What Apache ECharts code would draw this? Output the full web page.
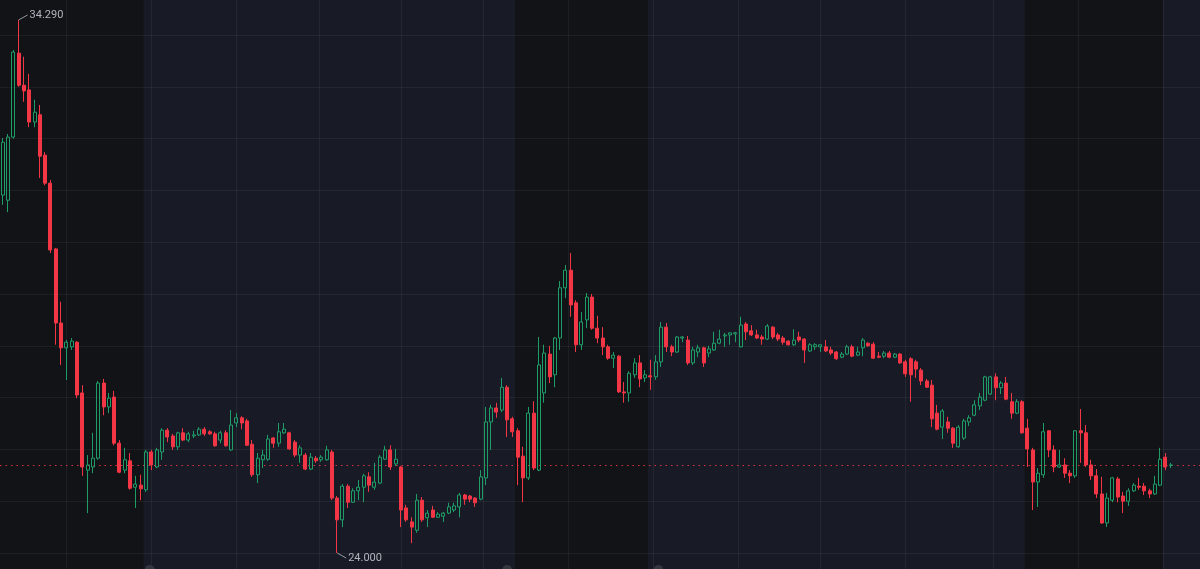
<!DOCTYPE html>
<html><head><meta charset="utf-8">
<script src="https://cdn.jsdelivr.net/npm/echarts@6/dist/echarts.min.js"></script>
<style>html,body{margin:0;padding:0;background:#181b25;overflow:hidden}#c{width:1200px;height:569px;}</style>
</head><body><div id="c"></div>
<script>
// ---- data ----
const totalSlots = 226; // bar slots visible (last few empty)
const categories = Array.from({length: totalSlots}, (_, i) => String(i));
const openP = [30.91,30.81,32.03,33.65,33.03,32.94,32.32,32.46,31.68,31.14,
29.87,28.44,27.96,27.98,28.07,27.09,25.60,25.66,25.83,27.28,
26.82,27.01,26.12,25.60,25.78,25.27,25.31,25.22,25.95,25.66,
25.95,26.37,26.26,26.05,26.32,26.18,26.26,26.28,26.39,26.34,
26.30,26.18,26.32,25.99,26.51,26.61,26.55,26.10,25.51,25.80,
25.81,26.22,26.12,26.32,26.32,26.14,25.89,25.89,25.62,25.83,
25.80,25.80,25.95,25.06,24.64,25.29,24.98,25.20,25.27,25.47,
25.27,25.35,25.81,25.99,25.72,25.66,24.87,24.60,24.44,25.02,
24.68,24.83,24.69,24.71,24.77,24.83,24.89,25.12,25.10,25.06,
25.04,25.45,26.53,26.80,26.76,27.20,26.59,26.36,25.87,25.45,
26.70,25.60,27.09,27.84,27.44,28.15,29.12,29.46,28.83,28.02,
28.50,28.94,28.34,28.15,27.98,27.76,27.80,27.11,27.09,27.44,
27.67,27.38,27.42,27.40,27.69,28.36,27.98,27.88,28.15,28.11,
27.67,27.88,27.96,27.86,27.92,28.05,28.19,28.21,28.23,27.98,
28.42,28.29,28.21,28.17,28.13,28.36,28.21,28.15,28.09,28.02,
28.17,28.13,27.90,27.98,27.98,27.98,27.92,27.88,27.78,27.84,
27.98,27.82,27.96,28.05,28.03,27.80,27.80,27.86,27.78,27.84,
27.69,27.75,27.69,27.53,27.32,27.24,26.70,26.43,26.53,26.41,
26.05,26.22,26.53,26.66,26.84,26.95,27.07,27.40,27.19,27.28,
26.92,26.70,26.92,26.41,25.99,25.37,25.51,26.36,25.99,25.66,
25.70,25.54,25.49,26.36,26.32,25.70,25.49,25.14,24.58,25.02,
25.43,25.10,25.00,25.20,25.29,25.29,25.20,25.14,25.31,25.85,
25.69];
const closeP = [31.93,32.03,33.67,33.03,32.92,32.32,32.51,31.66,31.14,29.85,
28.44,27.96,28.07,28.09,27.05,25.66,25.70,25.83,27.28,26.82,
26.99,26.12,25.56,25.80,25.25,25.33,25.24,25.95,25.70,25.99,
26.37,26.24,26.05,26.32,26.18,26.30,26.28,26.39,26.30,26.30,
26.07,26.32,26.07,26.47,26.61,26.51,26.08,25.51,25.83,25.89,
26.20,26.12,26.34,26.39,26.01,25.89,26.03,25.62,25.85,25.78,
25.85,25.99,25.06,24.64,25.29,24.98,25.20,25.27,25.49,25.31,
25.37,25.85,25.99,25.66,25.81,24.83,24.64,24.50,25.02,24.64,
24.77,24.69,24.75,24.77,24.89,24.91,25.12,25.04,25.04,24.97,
25.47,26.53,26.80,26.72,27.20,26.57,26.34,25.85,25.45,26.70,
25.64,27.63,27.86,27.40,28.15,29.12,29.46,28.79,28.02,28.46,
28.94,28.34,28.15,27.98,27.76,27.82,27.11,27.09,27.47,27.67,
27.36,27.44,27.40,27.69,28.36,27.98,27.88,28.17,28.17,27.67,
27.92,27.96,27.67,27.94,28.05,28.13,28.21,28.25,28.25,28.40,
28.27,28.21,28.15,28.13,28.38,28.17,28.13,28.07,28.02,28.11,
28.11,27.92,28.02,28.02,28.02,27.90,27.86,27.75,27.84,27.98,
27.80,27.88,28.11,28.00,27.76,27.78,27.86,27.78,27.84,27.67,
27.46,27.44,27.55,27.32,27.20,26.59,26.39,26.74,26.41,26.12,
26.43,26.55,26.61,26.86,27.01,27.40,27.40,27.19,27.28,26.97,
26.70,26.92,26.32,26.01,25.37,25.54,26.34,25.99,25.66,25.70,
25.54,25.49,26.36,26.32,25.70,25.49,25.14,24.58,25.06,25.45,
25.08,25.00,25.20,25.31,25.27,25.20,25.14,25.33,25.81,25.66,
25.70];
const highP = [32.01,32.09,33.71,34.29,33.58,33.25,32.75,32.65,31.74,31.20,
29.89,28.85,28.11,28.15,28.09,27.24,25.89,26.32,27.32,27.36,
27.09,27.13,26.18,26.03,25.93,25.49,25.51,25.99,25.99,26.03,
26.41,26.41,26.30,26.34,26.41,26.34,26.36,26.43,26.43,26.37,
26.34,26.36,26.37,26.76,26.70,26.64,26.59,26.18,25.93,25.99,
26.28,26.24,26.51,26.51,26.34,26.18,26.08,25.93,25.93,25.87,
25.89,26.07,25.99,25.10,25.33,25.33,25.25,25.41,25.53,25.56,
25.74,25.89,26.07,26.08,26.01,25.68,24.93,24.69,25.14,25.08,
24.83,24.91,24.79,24.79,24.97,24.97,25.16,25.14,25.12,25.08,
25.60,26.82,26.86,26.90,27.38,27.24,26.63,26.41,26.05,26.82,
26.93,28.17,28.02,28.00,28.17,29.25,29.56,29.79,28.88,28.65,
29.02,29.00,28.58,28.36,28.02,27.88,27.82,27.30,27.51,27.76,
27.82,27.53,27.73,27.82,28.46,28.44,28.02,28.19,28.19,28.19,
27.98,28.02,27.98,28.00,28.27,28.31,28.25,28.26,28.27,28.56,
28.46,28.40,28.31,28.21,28.42,28.38,28.25,28.19,28.11,28.32,
28.27,28.15,28.05,28.05,28.02,28.11,27.98,27.90,27.88,28.02,
28.02,27.98,28.15,28.07,28.07,27.88,27.90,27.90,27.86,27.86,
27.73,27.78,27.73,27.57,27.36,27.34,26.86,26.78,26.63,26.43,
26.47,26.59,26.66,26.95,27.09,27.42,27.42,27.47,27.32,27.40,
27.09,26.97,26.95,26.59,26.03,25.64,26.51,26.37,26.08,25.99,
25.83,25.60,26.37,26.78,26.47,25.80,25.62,25.47,25.16,25.47,
25.47,25.18,25.25,25.35,25.45,25.35,25.24,25.49,26.03,25.93,
25.74];
const lowP = [30.72,30.58,32.00,33.00,32.71,32.22,32.22,31.24,31.10,29.79,
28.02,27.63,27.34,27.92,26.99,25.49,24.77,25.54,25.80,26.66,
26.70,26.08,25.54,25.54,25.22,24.87,25.02,25.18,25.60,25.64,
25.80,26.14,25.99,25.99,26.16,26.14,26.22,26.26,26.26,26.28,
26.05,26.12,26.05,25.97,26.43,26.39,26.07,25.47,25.35,25.64,
25.78,26.03,26.05,26.30,25.99,25.85,25.74,25.60,25.60,25.74,
25.76,25.78,25.02,24.00,24.50,24.87,24.97,25.02,24.98,25.18,
25.22,25.33,25.80,25.60,25.68,24.50,24.60,24.19,24.39,24.60,
24.50,24.68,24.68,24.60,24.75,24.79,24.69,24.93,24.98,24.89,
25.02,25.31,25.99,26.61,26.72,26.24,26.24,25.31,24.98,25.41,
25.60,25.58,26.90,27.28,27.20,27.92,28.92,28.56,27.88,27.92,
28.34,28.31,28.05,27.82,27.73,27.57,27.09,26.90,26.92,27.38,
27.20,27.30,27.15,27.34,27.59,27.88,27.80,27.86,28.07,27.63,
27.63,27.78,27.59,27.78,27.90,28.03,27.98,28.02,28.07,27.97,
28.11,28.19,28.13,28.02,28.11,28.13,28.09,28.02,28.00,28.00,
28.07,27.67,27.88,27.92,27.88,27.88,27.82,27.73,27.76,27.82,
27.78,27.80,27.80,27.98,27.75,27.76,27.76,27.76,27.76,27.65,
27.40,26.92,27.38,27.24,27.19,26.43,26.37,26.20,26.32,26.03,
26.03,26.18,26.45,26.64,26.76,26.93,27.05,26.95,27.07,26.95,
26.59,26.68,26.30,25.66,24.83,24.89,25.45,25.85,25.56,25.64,
25.45,25.35,25.45,25.74,25.66,25.41,25.06,24.56,24.50,24.98,
24.98,24.77,24.91,25.18,25.22,25.12,25.06,25.12,25.29,25.60,
25.64];
// price grid ticks
const priceMin = 24, priceMax = 34, priceStep = 1;
// extended-hours (darker) session bands, in bar-slot units
const sessionBands = [[-0.5, 26.5], [96.5, 121.5], [192.5, 218.5]];
// time grid lines, in bar-slot units
const timeGridLines = [12, 28, 44, 59.5, 75, 90.5, 106.5, 122.5, 138.5, 154, 170, 186.5, 202.5, 218.5];
// session marker icons at the bottom edge, in bar-slot units
const sessionMarkers = [27.7, 95, 123.5];

// ---- build ----
const candles = openP.map((o, i) => [o, closeP[i], lowP[i], highP[i]]);
let hiIdx = 0, loIdx = 0;
highP.forEach((v, i) => { if (v > highP[hiIdx]) hiIdx = i; });
lowP.forEach((v, i) => { if (v < lowP[loIdx]) loIdx = i; });
const extremes = [[hiIdx, highP[hiIdx], 1], [loIdx, lowP[loIdx], -1]];
const lastClose = closeP[closeP.length - 1];

const UP = '#1f9d68', DOWN = '#f23645';
const GRIDC = 'rgba(255,255,255,0.055)';

const chart = echarts.init(document.getElementById('c'), null, {renderer: 'canvas'});
chart.setOption({
  animation: false,
  backgroundColor: '#181b25',
  grid: [
    {left: 0, right: 0, top: 0, bottom: 0},
    {left: 0, right: 0, top: 35, bottom: 16}
  ],
  xAxis: [
    {type: 'value', gridIndex: 0, min: -0.5, max: totalSlots - 0.5, show: false},
    {type: 'category', gridIndex: 1, data: categories, boundaryGap: true, show: false}
  ],
  yAxis: [
    {type: 'value', gridIndex: 0, min: 0, max: 1, show: false},
    {type: 'value', gridIndex: 1, min: priceMin, max: priceMax, interval: priceStep, z: 2,
     axisLine: {show: false}, axisTick: {show: false}, axisLabel: {show: false},
     splitLine: {show: true, lineStyle: {color: GRIDC, width: 1}}}
  ],
  series: [
    {
      type: 'custom', xAxisIndex: 0, yAxisIndex: 0, z: 0, silent: true,
      data: sessionBands.map(b => [b[0], b[1], 0]),
      encode: {x: [0, 1], y: 2},
      renderItem: (params, api) => {
        const a = api.coord([api.value(0), 1]);
        const b = api.coord([api.value(1), 0]);
        return {type: 'rect', shape: {x: a[0], y: a[1], width: b[0] - a[0], height: b[1] - a[1]},
                style: {fill: '#121317'}};
      }
    },
    {
      type: 'custom', xAxisIndex: 0, yAxisIndex: 0, z: 1, silent: true,
      data: timeGridLines.map(v => [v, 0]),
      encode: {x: 0, y: 1},
      renderItem: (params, api) => {
        const a = api.coord([api.value(0), 1]);
        const b = api.coord([api.value(0), 0]);
        const x = Math.round(a[0]) + 0.5;
        return {type: 'line', shape: {x1: x, y1: a[1], x2: x, y2: b[1]},
                style: {stroke: GRIDC, lineWidth: 1}};
      }
    },
    {
      type: 'custom', xAxisIndex: 0, yAxisIndex: 0, z: 1, silent: true, clip: false,
      data: sessionMarkers.map(v => [v, 0]),
      encode: {x: 0, y: 1},
      renderItem: (params, api) => {
        const a = api.coord([api.value(0), 0]);
        return {type: 'circle', shape: {cx: a[0], cy: a[1] + 1, r: 5},
                style: {fill: '#34373f'}};
      }
    },
    {
      type: 'candlestick', xAxisIndex: 1, yAxisIndex: 1, z: 5, clip: false,
      barWidth: '66%',
      data: candles,
      itemStyle: {color: 'transparent', color0: DOWN, borderColor: UP, borderColor0: DOWN, borderWidth: 1},
      markLine: {
        silent: true, symbol: ['none', 'none'], label: {show: false},
        lineStyle: {color: DOWN, type: [1.5, 4], width: 1, opacity: 0.9},
        data: [{yAxis: lastClose}]
      }
    },
    {
      type: 'custom', xAxisIndex: 1, yAxisIndex: 1, z: 6, silent: true, clip: false,
      data: extremes,
      encode: {x: 0, y: 1},
      renderItem: (params, api) => {
        const p = api.coord([api.value(0), api.value(1)]);
        const dir = api.value(2);
        const end = [p[0] + 9, p[1] - dir * 5];
        return {type: 'group', children: [
          {type: 'line', shape: {x1: p[0], y1: p[1], x2: end[0], y2: end[1]},
           style: {stroke: '#9598a1', lineWidth: 1}},
          {type: 'text', style: {text: Number(api.value(1)).toFixed(3), x: end[0] + 2, y: end[1],
           verticalAlign: 'middle', align: 'left', fill: '#b2b5be', font: '11px Roboto, sans-serif'}}
        ]};
      }
    }
  ]
});
</script>
</body></html>
